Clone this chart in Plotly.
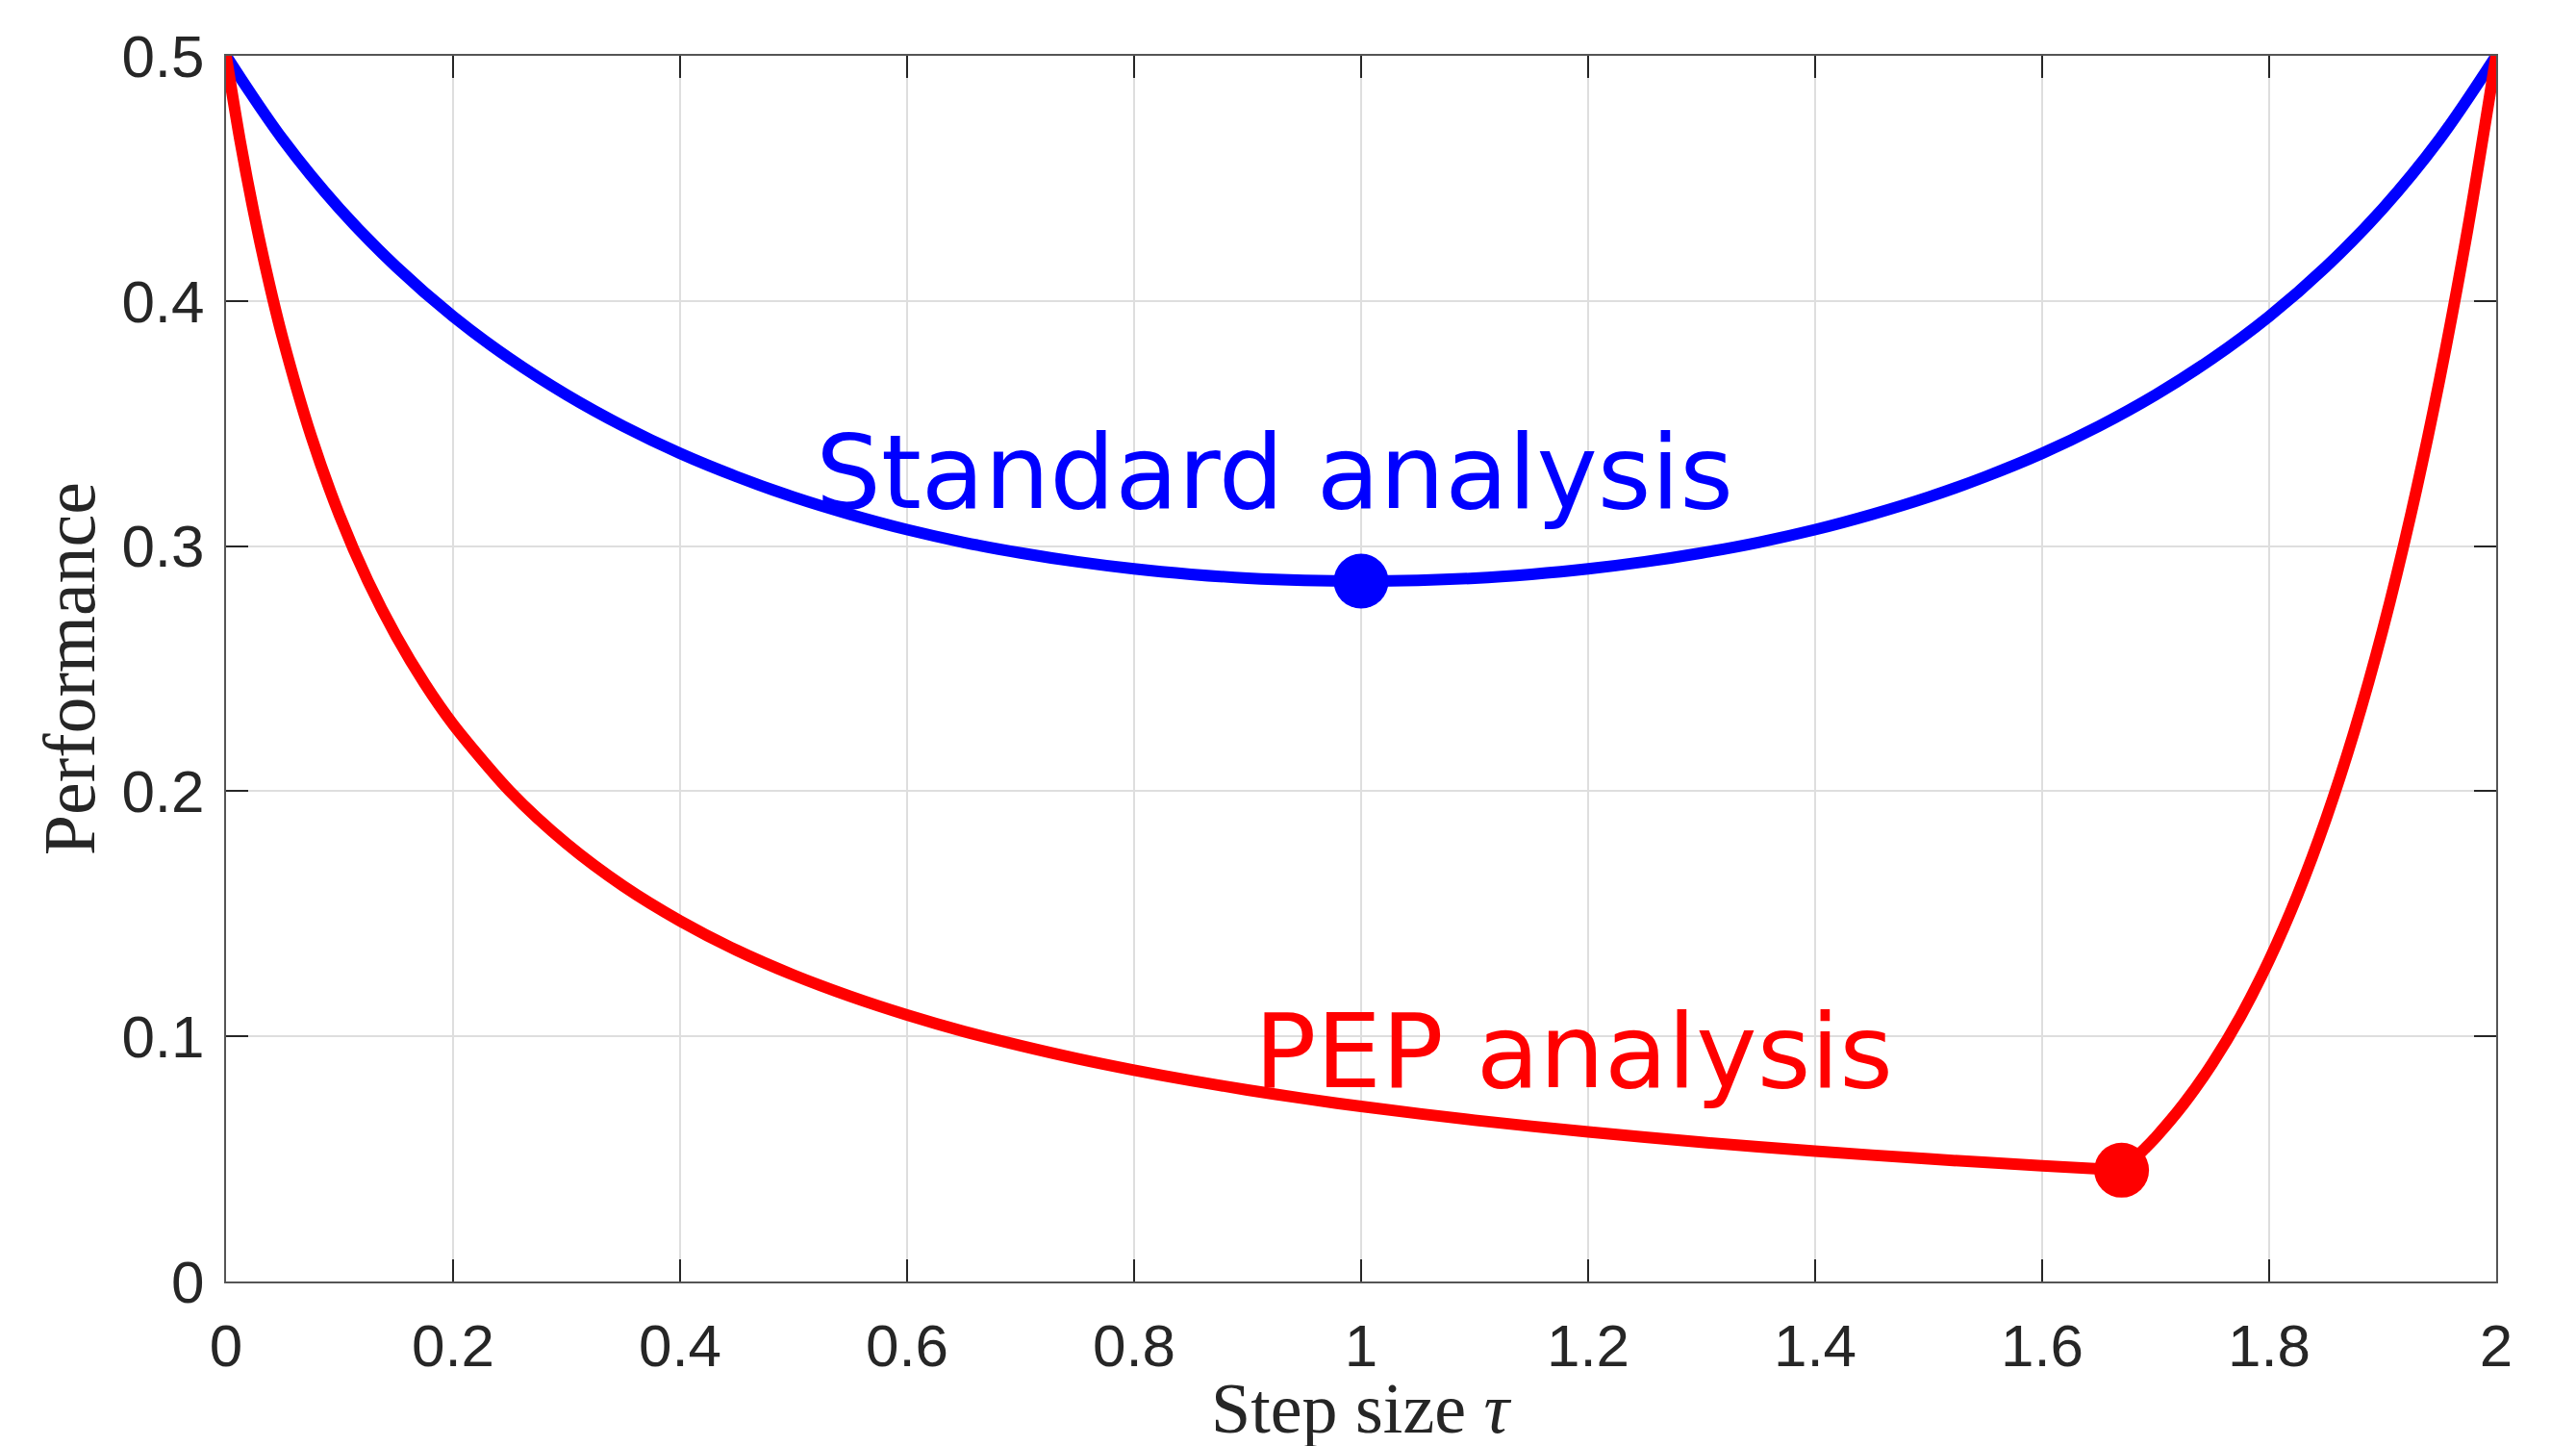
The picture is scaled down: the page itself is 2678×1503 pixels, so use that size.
import plotly.graph_objects as go

# Standard analysis curve
std_tau = [0.0, 0.05, 0.1, 0.15, 0.2, 0.25, 0.3, 0.35, 0.4, 0.45, 0.5, 0.55, 0.6, 0.65, 0.7, 0.75, 0.8, 0.85, 0.9, 0.95, 1.0,
           1.05, 1.1, 1.15, 1.2, 1.25, 1.3, 1.35, 1.4, 1.45, 1.5, 1.55, 1.6, 1.65, 1.7, 1.75, 1.8, 1.85, 1.9, 1.95, 2.0]
std_val = [0.5, 0.4659, 0.4376, 0.4139, 0.3937, 0.3765, 0.3617, 0.3489, 0.3378, 0.3283, 0.32, 0.3129, 0.3067, 0.3015,
           0.2972, 0.2936, 0.2907, 0.2885, 0.2869, 0.2860, 0.2857,
           0.2860, 0.2869, 0.2885, 0.2907, 0.2936, 0.2972, 0.3015, 0.3067, 0.3129, 0.32, 0.3283, 0.3378, 0.3489,
           0.3617, 0.3765, 0.3937, 0.4139, 0.4376, 0.4659, 0.5]

# PEP analysis curve: decreasing branch and rising branch
pep_tau_left = [0.0, 0.0125, 0.025, 0.0375, 0.05, 0.075, 0.1, 0.125, 0.15, 0.175, 0.2, 0.25, 0.3, 0.35, 0.4, 0.45, 0.5,
                0.55, 0.6, 0.65, 0.7, 0.75, 0.8, 0.85, 0.9, 0.95, 1.0, 1.1, 1.2, 1.3, 1.4, 1.5, 1.6, 1.67]
pep_val_left = [0.5, 0.4651, 0.4348, 0.4082, 0.3846, 0.3448, 0.3125, 0.2857, 0.2632, 0.2439, 0.2273, 0.2, 0.1786,
                0.1613, 0.1471, 0.1351, 0.125, 0.1163, 0.1087, 0.1020, 0.0962, 0.0909, 0.0862, 0.0820, 0.0781,
                0.0746, 0.0714, 0.0658, 0.0610, 0.0568, 0.0532, 0.05, 0.0472, 0.0454]
pep_tau_right = [1.67, 1.68, 1.69, 1.7, 1.725, 1.75, 1.775, 1.8, 1.825, 1.85, 1.875, 1.9, 1.925, 1.95, 1.975, 2.0]
pep_val_right = [0.0454, 0.0494, 0.0540, 0.0588, 0.0726, 0.0890, 0.1083, 0.1311, 0.1577, 0.1886, 0.2244, 0.2657,
                 0.3132, 0.3675, 0.4295, 0.5]

opt_tau = [1.0, 1.67]
opt_val = [0.2857, 0.0454]

x_ticks = [0, 0.2, 0.4, 0.6, 0.8, 1, 1.2, 1.4, 1.6, 1.8, 2]
x_labels = ["0", "0.2", "0.4", "0.6", "0.8", "1", "1.2", "1.4", "1.6", "1.8", "2"]
y_ticks = [0, 0.1, 0.2, 0.3, 0.4, 0.5]
y_labels = ["0", "0.1", "0.2", "0.3", "0.4", "0.5"]

BLUE = "#0000ff"
RED = "#ff0000"
AX = "#262626"
LW = 12

fig = go.Figure()
fig.add_trace(go.Scatter(x=std_tau, y=std_val, mode="lines", line=dict(color=BLUE, width=LW, shape="spline"),
                         cliponaxis=False, showlegend=False, hoverinfo="skip"))
fig.add_trace(go.Scatter(x=pep_tau_left, y=pep_val_left, mode="lines",
                         line=dict(color=RED, width=LW, shape="spline", smoothing=0.8),
                         cliponaxis=False, showlegend=False, hoverinfo="skip"))
fig.add_trace(go.Scatter(x=pep_tau_right, y=pep_val_right, mode="lines",
                         line=dict(color=RED, width=LW, shape="spline", smoothing=0.8),
                         cliponaxis=False, showlegend=False, hoverinfo="skip"))
fig.add_trace(go.Scatter(x=[opt_tau[0]], y=[opt_val[0]], mode="markers", marker=dict(color=BLUE, size=57),
                         showlegend=False, hoverinfo="skip"))
fig.add_trace(go.Scatter(x=[opt_tau[1]], y=[opt_val[1]], mode="markers", marker=dict(color=RED, size=57),
                         showlegend=False, hoverinfo="skip"))

axis_common = dict(
    showline=True, linecolor="#555555", linewidth=2, mirror="ticks",
    ticks="inside", ticklen=23, tickwidth=1.5, tickcolor=AX,
    showgrid=True, gridcolor="#dedede", gridwidth=1.5, zeroline=False,
    tickfont=dict(family="Liberation Sans, Arial, sans-serif", size=62, color=AX),
)

fig.update_xaxes(range=[0, 2], tickvals=x_ticks, ticktext=x_labels, ticklabelstandoff=12, **axis_common)
fig.update_yaxes(range=[0, 0.5], tickvals=y_ticks, ticktext=y_labels, ticklabelstandoff=8, **axis_common)

fig.add_annotation(x=0.924, y=0.330, xref="x", yref="y", text="Standard analysis", showarrow=False,
                   font=dict(family="DejaVu Sans", size=107, color=BLUE), xanchor="center", yanchor="middle")
fig.add_annotation(x=1.187, y=0.0938, xref="x", yref="y", text="PEP analysis", showarrow=False,
                   font=dict(family="DejaVu Sans", size=107, color=RED), xanchor="center", yanchor="middle")

fig.add_annotation(x=0.5, y=-0.1035, xref="paper", yref="paper", text="Step size <i>τ</i>", showarrow=False,
                   font=dict(family="Liberation Serif, Times New Roman, serif", size=74, color=AX),
                   xanchor="center", yanchor="middle")
fig.add_annotation(x=-0.069, y=0.5, xref="paper", yref="paper", text="Performance", showarrow=False,
                   textangle=-90, font=dict(family="Liberation Serif, Times New Roman, serif", size=76, color=AX),
                   xanchor="center", yanchor="middle")

fig.update_layout(
    width=2678, height=1503,
    margin=dict(l=235, r=83, t=58, b=171),
    paper_bgcolor="white", plot_bgcolor="white",
)

fig.write_html("out.html")
